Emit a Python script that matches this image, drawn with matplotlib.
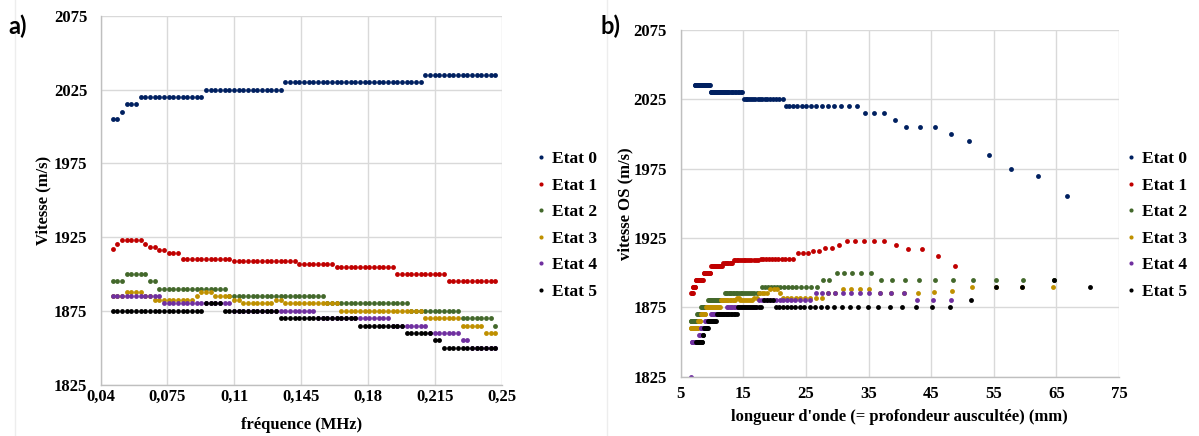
import numpy as np
import matplotlib
matplotlib.use("Agg")
import matplotlib.pyplot as plt
from matplotlib.lines import Line2D

nan = np.nan

# ---------------- data ----------------
# frequency grid (MHz): index k * 10/4096
freq_step_mhz = 10 / 4096
k_index = np.arange(11, 116)
freq_mhz = k_index * freq_step_mhz
# points shown in panel a) (frequency window of the left chart)
left_k_first, left_k_last = 19, 101

etat0 = ([nan] + [1955, 1970, 1975, 1985, 1995, 2000] + [2005] * 3 + [2010]
         + [2015] * 3 + [2020] * 14 + [2025] * 17 + [2030] * 30 + [2035] * 30)
etat1 = ([nan] * 5 + [1905, 1912, 1917, 1917, 1920] + [1923] * 5 + [1920]
         + [1918] * 2 + [1916] * 2 + [1914] * 3 + [1910] * 11 + [1909] * 14
         + [1907] * 8 + [1905] * 13 + [1900] * 11 + [1895] * 15 + [1890] * 6
         + [1885] * 4)
etat2 = ([nan] + [1895] * 10 + [1900] * 5 + [1895] * 2 + [1890] * 15
         + [1885] * 21 + [1880] * 18 + [1875] * 11 + [1870] * 7 + [1865] * 15)
etat3 = ([nan] + [1890] * 4 + [1887, 1886] + [1885] * 4 + [1888] * 4
         + [1885] * 2 + [1882] * 9 + [1885] + [1888] * 3 + [1885] * 4
         + [1882] * 2 + [1880] * 7 + [1882] * 2 + [1880] * 12 + [1875] * 18
         + [1870] * 8 + [1865] * 5 + [1860] * 17)
etat4 = ([nan] * 5 + [1880] * 3 + [1885] * 11 + [1880] * 15 + [1875] * 18
         + [1870] * 16 + [1865] * 8 + [1860] * 7 + [1855] * 2 + [1850] * 17
         + [1825] + [nan] * 2)
etat5 = ([1890, 1895, 1890, 1890, 1880] + [1875] * 23 + [1880] * 4
         + [1875] * 12 + [1870] * 17 + [1865] * 10 + [1860] * 6 + [1855] * 2
         + [1850] * 12 + [nan] * 14)

series_names = ["Etat 0", "Etat 1", "Etat 2", "Etat 3", "Etat 4", "Etat 5"]
series_values = [etat0, etat1, etat2, etat3, etat4, etat5]
series_colors = ["#002060", "#C00000", "#43682B", "#BF9000", "#7030A0", "#000000"]

freq_ticks = [0.04, 0.075, 0.11, 0.145, 0.18, 0.215, 0.25]
freq_ticklabels = ["0,04", "0,075", "0,11", "0,145", "0,18", "0,215", "0,25"]
lambda_ticks = [5, 15, 25, 35, 45, 55, 65, 75]
speed_ticks = [1825, 1875, 1925, 1975, 2025, 2075]

# ---------------- figure ----------------
W, H = 1199, 436
fig = plt.figure(figsize=(W / 100, H / 100), dpi=100)
fig.patch.set_facecolor("white")

serif = "Liberation Serif"
tick_fs = 12
grid_c = "#D9D9D9"
axis_c = "#BFBFBF"


def px_axes(x0, x1, ytop, ybot):
    return fig.add_axes([x0 / W, 1 - ybot / H, (x1 - x0) / W, (ybot - ytop) / H])


def style(ax):
    ax.set_facecolor("white")
    for s in ("top", "right"):
        ax.spines[s].set_visible(False)
    for s in ("left", "bottom"):
        ax.spines[s].set_color(axis_c)
        ax.spines[s].set_linewidth(1.0)
    ax.grid(True, color=grid_c, linewidth=1.0)
    ax.set_axisbelow(True)
    ax.tick_params(length=0, labelsize=tick_fs)
    for lab in ax.get_xticklabels() + ax.get_yticklabels():
        lab.set_fontfamily(serif)
        lab.set_fontweight("bold")


ms = 3.5

# ----- panel a) -----
axA = px_axes(100.5, 502, 16, 384.5)
sel = (k_index >= left_k_first) & (k_index <= left_k_last)
for name, vals, col in zip(series_names, series_values, series_colors):
    v = np.asarray(vals, dtype=float)
    axA.plot(freq_mhz[sel], v[sel], linestyle="none", marker="o", ms=ms,
             mec="none", mfc=col, label=name)
axA.set_xlim(0.04, 0.25)
axA.set_ylim(1825, 2075)
axA.set_xticks(freq_ticks)
axA.set_xticklabels(freq_ticklabels)
axA.set_yticks(speed_ticks)
axA.tick_params(axis="y", pad=9.5)
axA.tick_params(axis="x", pad=3.0)
style(axA)
axA.set_ylabel("Vitesse (m/s)", fontfamily=serif, fontweight="bold", fontsize=12)
axA.yaxis.set_label_coords(-0.122, 0.5)
axA.set_xlabel("fréquence (MHz)", fontfamily=serif, fontweight="bold", fontsize=12)
axA.xaxis.set_label_coords(0.5, -0.088)
legA = axA.legend(loc="upper left", bbox_to_anchor=(536 / W, 1 - 151 / H),
                  bbox_transform=fig.transFigure, frameon=False,
                  prop={"family": serif, "weight": "bold", "size": 12.5},
                  handlelength=0.6, handletextpad=0.35, labelspacing=0.6,
                  borderpad=0, borderaxespad=0, markerscale=0.85)

# ----- panel b) -----
axB = px_axes(680.7, 1118.9, 30, 376.7)
for name, vals, col in zip(series_names, series_values, series_colors):
    v = np.asarray(vals, dtype=float)
    wavelength_mm = v / (freq_mhz * 1000.0)
    axB.plot(wavelength_mm, v, linestyle="none", marker="o", ms=ms,
             mec="none", mfc=col, label=name)
axB.set_xlim(5, 75)
axB.set_ylim(1825, 2075)
axB.set_xticks(lambda_ticks)
axB.set_yticks(speed_ticks)
axB.tick_params(axis="y", pad=10)
axB.tick_params(axis="x", pad=7)
style(axB)
axB.set_ylabel("vitesse OS (m/s)", fontfamily=serif, fontweight="bold", fontsize=12)
axB.yaxis.set_label_coords(-0.108, 0.5)
axB.set_xlabel("longueur d'onde (= profondeur auscultée) (mm)", fontfamily=serif,
               fontweight="bold", fontsize=12)
axB.xaxis.set_label_coords(0.5, -0.094)
legB = axB.legend(loc="upper left", bbox_to_anchor=(1126 / W, 1 - 151 / H),
                  bbox_transform=fig.transFigure, frameon=False,
                  prop={"family": serif, "weight": "bold", "size": 12.5},
                  handlelength=0.6, handletextpad=0.35, labelspacing=0.6,
                  borderpad=0, borderaxespad=0, markerscale=0.85)

# panel letters
fig.text(8 / W, 1 - 26 / H, "a)", fontfamily="Lato", fontweight="bold",
         fontsize=17, va="center", ha="left")
fig.text(600 / W, 1 - 26 / H, "b)", fontfamily="Lato", fontweight="bold",
         fontsize=17, va="center", ha="left")

# faint chart-area borders
for xb in (15, 606.5):
    fig.add_artist(Line2D([xb / W, xb / W], [0, 1], color="#EDEDED", lw=1.0))

fig.savefig("out.png", dpi=100, facecolor="white")
